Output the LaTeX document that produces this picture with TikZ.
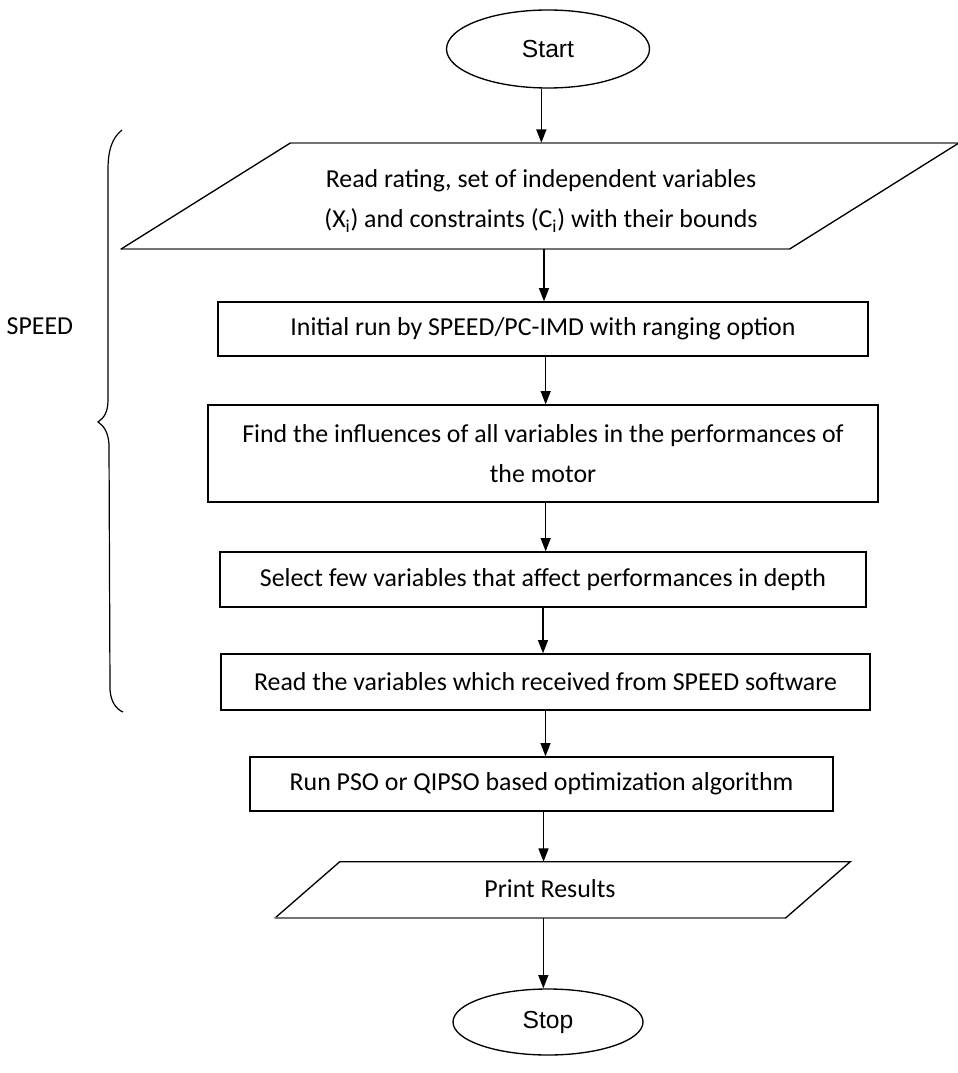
\documentclass[tikz,border=0pt]{standalone}
\usepackage{fontspec}
\setmainfont{Carlito}
\newfontfamily\termfont{Liberation Sans}
\usetikzlibrary{arrows.meta,shapes.geometric,calc}

\tikzset{
  every node/.style={font=\fontsize{19.4}{30}\selectfont},
  outline/.style={draw=black, line width=1pt},
  softedge/.style={draw=black!55, line width=1.6pt},
  procbox/.style={outline, rectangle, align=center, inner sep=0pt},
  terminal/.style={outline, ellipse, inner sep=0pt,
    font=\termfont\fontsize{18.5}{22}\selectfont},
  iobody/.style={rectangle, align=center, inner sep=0pt},
  flow/.style={draw=black, line width=1.1pt,
    -{Triangle[width=7.5pt,length=10pt]}},
  brace/.style={draw=black, line width=0.9pt}
}

\begin{document}
\begin{tikzpicture}[x=0.75pt,y=-0.75pt]
  \useasboundingbox (0,0) rectangle (957,1073);

  % terminals
  \node[terminal, minimum width={203*0.75pt}, minimum height={78*0.75pt}]
    (start) at (548,49) {Start};
  \node[terminal, minimum width={190*0.75pt}, minimum height={66*0.75pt}]
    (stop) at (548,1022) {Stop};

  % input parallelogram: slanted sides black, horizontal edges softer
  \node[iobody, minimum width={668*0.75pt}, minimum height={106*0.75pt}]
    (input) at (540,196) {};
  \node (inputtext) at (541,201) [align=center]
    {Read rating, set of independent variables\\
      (X\textsubscript{i}) and constraints (C\textsubscript{i}) with their bounds};
  \draw[softedge] ($(input.north west)+(85,0)$) -- ($(input.north east)+(85,0)$);
  \draw[softedge] ($(input.south west)+(-85,0)$) -- ($(input.south east)+(-85,0)$);
  \draw[outline] ($(input.south west)+(-85,0)$) -- ($(input.north west)+(85,0)$);
  \draw[outline] ($(input.south east)+(-85,0)$) -- ($(input.north east)+(85,0)$);

  % process boxes
  \node[procbox, minimum width={650*0.75pt}, minimum height={54*0.75pt}]
    (init) at (543,329) {Initial run by SPEED/PC-IMD with ranging option};
  \node[procbox, minimum width={670*0.75pt}, minimum height={97*0.75pt}]
    (find) at (543,453.5) {Find the influences of all variables in the performances of\\
      the motor};
  \node[procbox, minimum width={646*0.75pt}, minimum height={55*0.75pt}]
    (select) at (543,579.5) {Select few variables that affect performances in depth};
  \node[procbox, minimum width={649*0.75pt}, minimum height={56*0.75pt}]
    (readvar) at (545.5,682) {Read the variables which received from SPEED software};
  \node[procbox, minimum width={583*0.75pt}, minimum height={54*0.75pt}]
    (run) at (541.5,784) {Run PSO or QIPSO based optimization algorithm};

  % output parallelogram
  \node[iobody, minimum width={510*0.75pt}, minimum height={56*0.75pt}]
    (print) at (562,890) {};
  \node (printtext) at (550,889) {Print Results};
  \draw[outline] ($(print.south west)+(-32,0)$) -- ($(print.north west)+(33,0)$)
    -- ($(print.north east)+(33,0)$) -- ($(print.south east)+(-32,0)$);
  \draw[softedge] ($(print.south west)+(-32,0)$) -- ($(print.south east)+(-32,0)$);

  % flow arrows
  \draw[flow] ([xshift=-5]start.south) -- ([xshift=-5]start.south |- input.north);
  \draw[flow] ([xshift=3]input.south) -- ([xshift=3]input.south |- init.north);
  \draw[flow] ([xshift=2]init.south) -- ([xshift=2]init.south |- find.north);
  \draw[flow] ([xshift=2]find.south) -- ([xshift=2]find.south |- select.north);
  \draw[flow] (select.south) -- (select.south |- readvar.north);
  \draw[flow] (readvar.south) -- (readvar.south |- run.north);
  \draw[flow] ([xshift=1.5]run.south) -- ([xshift=1.5]run.south |- print.north);
  \draw[flow] ([xshift=-14]print.south) -- ([xshift=-14]print.south |- stop.north);

  % left brace grouping the SPEED steps
  \draw[brace] (122,130) .. controls (112,138) and (108,150) .. (108,170)
    -- (108,400) .. controls (108,412) and (104,418) .. (98,422)
    .. controls (104,426) and (108,432) .. (109,444)
    -- (110,690) .. controls (111,702) and (116,709) .. (123,712);
  \node[anchor=west] (speed) at (2,326) {SPEED};
\end{tikzpicture}
\end{document}
